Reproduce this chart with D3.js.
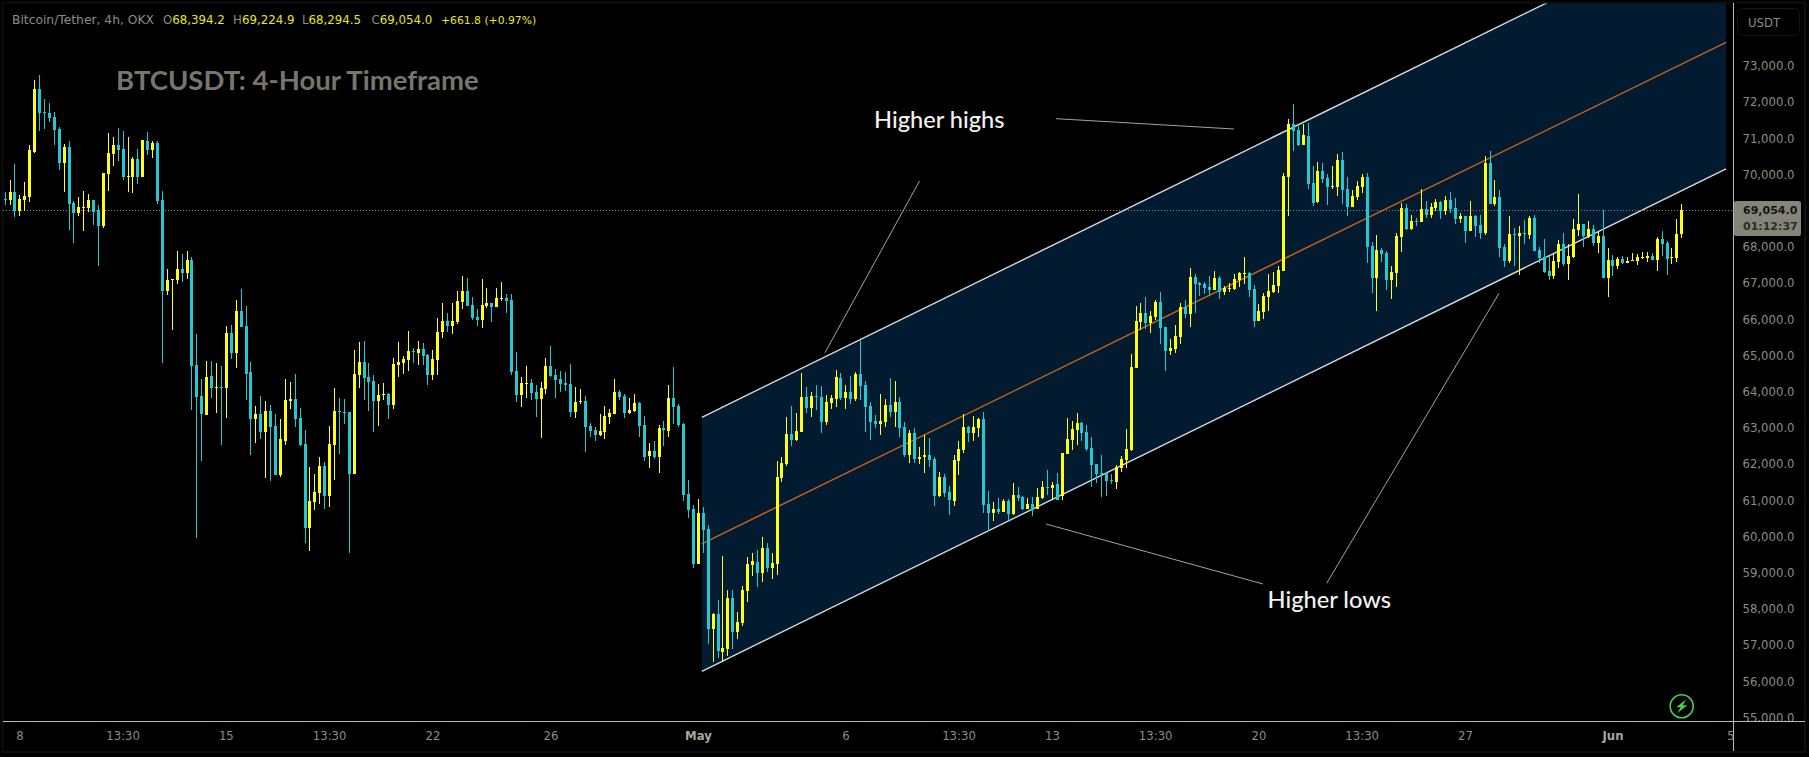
<!DOCTYPE html>
<html>
<head>
<meta charset="utf-8">
<script src="https://cdn.jsdelivr.net/npm/d3@7"></script>
<style>
  html, body { margin: 0; padding: 0; background: #000; overflow: hidden; }
  text { font-family: "DejaVu Sans", sans-serif; }
</style>
</head>
<body>
<svg id="chart" width="1809" height="757"></svg>
<script>
/** 4h candles as [open, high, low, close] */
var candlesApril = [
  [69370,69560,69200,69350],[69340,69890,69200,69560],[69560,70330,68870,69030],[69030,69470,68900,69370],[69340,69840,69030,69450],[69420,70860,69280,70720],
  [70670,72660,70640,72410],[72410,72790,71250,71740],[71770,72130,71300,71740],[71740,72020,71490,71600],[71630,71770,70860,71270],[71300,71360,70170,70360],
  [70360,70880,69560,70800],[70800,70970,68510,69230],[69260,69310,68150,68980],[68980,69420,68900,69150],[69120,69590,68480,69150],[69120,69500,69010,69340],
  [69340,69340,68650,69010],[69060,69200,67520,68620],[68620,70090,68570,70080],[70060,71190,69590,70640],[70610,71080,70280,70860],[70860,71330,70420,70720],
  [70750,71250,69890,69970],[69970,71080,69560,70000],[69970,70530,69530,70470],[70470,70750,69780,69970],[69970,71000,69970,71000],[70970,71220,70580,70720],
  [70720,70970,70500,70910],[70910,70970,69230,69310],[69340,69590,64840,66820],[66820,67430,66720,67130],[67130,67160,65750,67160],[67130,67930,67020,67430],
  [67430,67850,67070,67320],[67320,67930,67160,67680],[67680,67770,63540,64750],[64780,65640,60000,63900],[63920,64390,62130,63430],[63400,64890,63400,64450],
  [64480,64890,63870,64150],[64150,64840,63450,64170],[64170,64750,62570,64150],[64150,65860,63320,65670],[65670,65890,64950,65110],[65110,66580,64700,66270],
  [66270,66880,65830,65830],[65860,66410,63810,64530],[64590,64860,62290,63290],[63290,63650,62630,63430],[63430,63920,62740,62930],[62930,63790,61660,63510],
  [63510,63680,61580,63070],[63100,63430,61740,61740],[61740,63290,61690,62740],[62680,64390,62570,63810],[63790,64310,63570,63840],[63840,64530,63070,63290],
  [63320,63590,62540,62570],[62600,62990,59860,60280],[60280,61960,59640,61020],[61000,61770,60770,61270],[61240,62240,60940,61990],[61990,62100,60800,61160],
  [61160,63100,60860,62600],[62570,64150,61600,63510],[63510,63870,62320,63480],[63480,63840,63150,63450],[63480,63480,59590,61770],[61770,65200,61770,64530],
  [64500,65420,64150,64860],[64860,65440,63810,64420],[64450,64840,63510,64310],[64340,64500,62930,63790],[63790,64260,63100,63950],[63950,64280,63810,63980],
  [63980,64010,63290,63680],[63680,64970,63570,64810],[64780,65420,64450,64860],[64840,65030,64530,64950],[64920,65720,64620,65170],[65170,65250,64840,65140],
  [65110,65440,64780,65220],[65220,65390,64780,65030],[65060,65080,64230,64500],[64500,65200,64370,64950],[64920,66080,64500,65690],[65690,66490,65530,66000],
  [66000,66220,65690,65860],[65860,66490,65640,66000],[65970,66830,65910,66550],[66520,67240,66330,66830],[66830,67180,66410,66410],[66440,66660,66020,66080],
  [66110,66330,65860,66020],[66020,67160,65800,66440],[66410,66910,66360,66490],[66490,66490,65970,66380],[66380,66910,66380,66630],[66600,67070,66550,66630],
  [66630,66740,66220,66550],[66580,66740,64500,64590],[64620,65140,63760,63950],[63950,64450,63620,64280],[64260,64750,63870,64280],[64280,64390,63810,64010],
  [64040,64230,63340,63840],[63840,64310,62760,64150],[64120,64970,63980,64750],[64750,65310,64450,64480],[64500,64670,63870,64370],[64390,64620,64040,64260],
  [64280,64590,64060,64230],[64260,64810,63340,63480],[63480,64170,63320,63760],[63760,64120,63700,63790],[63790,63920,62380,63070],[63100,63180,62790,62960],
  [62990,63070,62680,62850],[62850,63430,62820,62960],[62930,63650,62740,63370],[63340,63570,63150,63450],[63430,64390,63430,64040],[64040,64090,63810,63900],
  [63920,63980,63320,63450],[63450,63870,63430,63540],[63510,63980,63480,63730],[63730,63760,62790,63100],[63120,63370,62130,62240],[62270,62630,61940,62400],
  [62400,62680,62180,62240],[62240,63120,61800,63040],[63040,63230,62540,62990],[62960,64230,62790,63870],[63870,64730,63150,63620],[63650,63700,63070,63120],
  [63150,63180,61020,61190],[61220,61600,60550,60770],[60800,60910,59170,59280]
];

var candlesMay = [
  [59280,61080,59280,60690],[60690,60860,59590,60220],[60250,60360,57070,57490],[57490,57930,56570,57900],[57900,58290,56680,56880],[56850,59500,56600,56960],
  [56930,58560,56740,58340],[58340,58560,56930,57400],[57400,57960,57210,57680],[57650,58670,57570,58560],[58530,59480,58230,59280],[59250,59590,58950,59360],
  [59340,59670,58650,59030],[59030,60030,58780,59720],[59720,59860,59060,59170],[59170,59590,58870,59310],[59280,62130,58980,61690],[61660,62240,61550,62070],
  [62040,63340,61990,62870],[62870,63650,62540,62710],[62710,63450,62680,62960],[62930,64560,62930,63900],[63900,64170,63450,63590],[63590,64030,63340,63920],
  [63920,64230,63540,63900],[63900,64200,62900,63210],[63210,63950,63120,63760],[63730,63950,63560,63870],[63840,64640,63620,64450],[64420,64560,63810,63870],
  [63870,64230,63560,64030],[64030,64480,63700,63840],[63840,64590,63790,64530],[64530,65530,63810,64200],[64230,64340,62930,63620],[63650,63760,62710,63210],
  [63230,63400,63040,63150],[63150,63980,62850,63230],[63210,63840,63070,63670],[63670,64420,63340,63480],[63480,64340,63070,63760],[63760,63900,62790,63040],
  [63070,63210,62240,62290],[62290,62980,62070,62900],[62900,63040,62070,62180],[62180,62510,62040,62240],[62240,62850,61800,62290],[62290,62760,61960,62160],
  [62180,62240,60880,61160],[61160,61820,61130,61690],[61690,61770,61130,61240],[61270,61440,60640,61050],[61020,62290,60880,62160],[62130,62680,61740,62460],
  [62430,63430,62350,63070],[63070,63090,62650,62900],[62900,63370,62680,63070],[63040,63320,62790,63290],[63290,63480,60690,60910],[60940,61300,60190,60690],
  [60690,60990,60470,60800],[60800,61110,60660,60720],[60720,61080,60720,61020],[61020,61080,60440,60660],[60660,61520,60640,61190],[61190,61410,61020,61110],
  [61130,61160,60770,60800],[60800,61110,60800,60940],[60940,61130,60610,60770],[60800,61380,60800,61130],[61110,61580,61080,61410],[61410,61880,61190,61380],
  [61380,61550,61050,61460],[61490,61800,61050,61050],[61160,62350,61050,62350],[62320,63320,62320,62740],[62710,63230,62430,63010],[62980,63450,62570,63180],
  [63180,63210,62680,62900],[62930,63120,62400,62460],[62490,62790,61410,62020],[62040,62040,61520,61770],[61800,62290,61130,61770],[61800,61820,61160,61580],
  [61600,61770,61490,61580],[61550,62020,61350,61960],[61930,62270,61820,62180],[62160,63010,61930,62460],[62430,65080,62400,64730],[64700,66410,64700,66000],
  [65970,66490,65750,66220],[66220,66660,65770,65940],[65940,66270,65660,66130],[66110,66580,66020,66520],[66520,66800,65360,65800],[65830,65830,64610,65170],
  [65170,65500,65060,65250],[65220,65890,65110,65580],[65550,66490,65360,66380],[66380,66580,66080,66190],[66190,67460,65830,67210],[67210,67290,66220,67020],
  [67050,67070,66690,66990],[67020,67070,66740,66910],[66940,67240,66690,66850],[66850,67380,66850,67180],[67180,67240,66600,66800],[66800,66960,66710,66910],
  [66880,67050,66800,66910],[66880,67290,66850,67160],[67130,67350,66940,67320],[67290,67760,67020,67320],[67320,67350,66660,66850],[66880,66990,65830,66000],
  [66000,66470,66000,66270],[66240,66770,66050,66690],[66660,67290,66270,66820],[66800,67350,66770,66990],[66960,67520,66770,67410],[67380,70090,67380,70000],
  [69970,71580,68900,71440],[71440,71990,70690,71250],[71270,71380,70830,70860],[70860,71440,70860,71130],[71110,71470,69640,69780],[69810,70280,69170,69260],
  [69280,70390,69260,70140],[70140,70360,69810,69920],[69950,70060,69200,69700],[69700,70280,69640,69730],[69700,70610,69450,70440],[70440,70670,69230,69620],
  [69640,69970,68900,69150],[69150,69620,69150,69450],[69420,69860,69340,69730],[69700,70060,69530,69970],[69970,70090,67600,68040],[68070,68180,66770,67180],
  [67180,68370,66270,67960],[67960,68010,67630,67850],[67870,67930,66850,67130],[67130,67520,66600,67350],[67320,68430,66940,68340],[68320,69260,67900,69120],
  [69120,69230,68510,68540],[68540,68920,68510,68760],[68770,68840,68620,68740],[68730,69640,68730,69090],[69090,69310,68840,68920],[68920,69260,68840,69150],
  [69120,69370,69040,69280],[69280,69310,68810,69040],[69040,69450,68920,69340],[69340,69560,68980,69090],[69120,69390,68680,68810],[68810,68980,68700,68900],
  [68900,68900,68150,68480],[68480,69310,68480,68900],[68900,68920,68320,68620],[68650,68920,68260,68430],[68430,70560,68370,70360],[70360,70690,69230,69230],
  [69230,69890,69170,69420],[69420,69620,67760,68010],[68040,68120,67490,67650],[67650,68900,67600,68400],[68400,68570,67520,68370],[68340,68620,67270,68430],
  [68430,68790,68120,68400],[68370,68900,68260,68840],[68840,68920,67930,67930],[67960,68040,67600,67740],[67760,68260,67320,67350],[67380,67790,67130,67240]
];

var candlesJune = [
  [67240,67850,67160,67650],[67630,68230,67460,68120],[68120,68430,67520,67570],[67570,68120,67130,67790],[67760,68810,67740,68540],[68510,69500,68340,68680],
  [68680,68680,68040,68340],[68320,68760,68290,68540],[68540,68650,68070,68150],[68150,68460,67880,68340],[68340,69060,67180,67180],[67180,68010,66660,67680],
  [67680,67820,67240,67520],[67520,67760,67430,67710],[67710,67790,67570,67600],[67600,67760,67600,67650],[67650,67880,67650,67680],[67650,67850,67540,67760],
  [67740,67900,67710,67760],[67740,67900,67630,67790],[67790,67880,67680,67680],[67680,68320,67380,68260],[68260,68480,67790,68120],[68150,68210,67270,67710],
  [67740,68010,67570,67760],[67740,68810,67630,68400],[68394.2,69224.9,68294.5,69054]
];

/** Price axis labels */
var priceTicks = [73000,72000,71000,70000,68000,67000,66000,65000,64000,63000,62000,61000,60000,59000,58000,57000,56000,55000];

/** Time axis labels, keyed by candle number */
var timeTicks = [3,24,45,66,87,111,141,171,194,213,234,255,276,297,327,351];
var timeLabels = ["8","13:30","15","13:30","22","26","May","6","13:30","13","13:30","20","13:30","27","Jun","5"];
var boldTimeLabels = ["May","Jun"];

/** Channel ends: candle number and price of each line */
var channelIdx = [141.8, 350.1];
var channelUpper = [63335, 77214];
var channelMiddle = [59840, 73696];
var channelLower = [56317, 70196];

/** Last quote */
var legendQuote = [["O","68,394.2"],["H","69,224.9"],["L","68,294.5"],["C","69,054.0"]];
var lastPrice = 69054;

var candles = candlesApril.concat(candlesMay, candlesJune);

var svg = d3.select("#chart");

/**Setup the scales*/
var xScale = d3.scaleLinear().domain([0, 341]).range([4.6, 1681.3]);
var yScale = d3.scaleLinear().domain([55000, 73000]).range([719, 67.5]);

var upColor = "#ffff14",
    downColor = "#24c8d0",
    axisColor = "#b9b8aa",
    labelColor = "#8d8c81",
    noteColor = "#a5a398";

var defs = svg.append("defs");
defs.append("clipPath").attr("id", "plotClip").append("rect")
  .attr("x", 3).attr("y", 3.5).attr("width", 1730).attr("height", 718);
defs.append("clipPath").attr("id", "scaleClip").append("rect")
  .attr("x", 1734).attr("y", 3).attr("width", 71).attr("height", 718);

// outer frame
svg.append("rect")
  .attr("x", 2.5).attr("y", 2.5).attr("width", 1802.5).attr("height", 749.5)
  .attr("fill", "#000").attr("stroke", "#0f0f0b").attr("stroke-width", 2);

var plot = svg.append("g").attr("clip-path", "url(#plotClip)");

// channel fill and its lines
var channelArea = d3.area()
  .x(function(d, i){ return xScale(channelIdx[i]); })
  .y0(function(d, i){ return yScale(channelLower[i]); })
  .y1(function(d){ return yScale(d); });

plot.append("path")
  .attr("d", channelArea(channelUpper))
  .attr("fill", "#021b31");

var channelLine = d3.line()
  .x(function(d, i){ return xScale(channelIdx[i]); })
  .y(function(d){ return yScale(d); });

plot.selectAll(".channelLine")
  .data([channelUpper, channelLower]).enter().append("path")
  .attr("class", "channelLine")
  .attr("d", channelLine)
  .attr("fill", "none")
  .attr("stroke", "#d5dbdf")
  .attr("stroke-width", 1.4);

plot.append("path")
  .attr("d", channelLine(channelMiddle))
  .attr("fill", "none")
  .attr("stroke", "#c0621c")
  .attr("stroke-width", 1.5);

// dotted last price line
plot.append("line")
  .attr("x1", 3).attr("x2", 1733)
  .attr("y1", Math.round(yScale(lastPrice)) + 0.5).attr("y2", Math.round(yScale(lastPrice)) + 0.5)
  .attr("stroke", "#8d8c81")
  .attr("stroke-dasharray", "1 2");

// candles
var candleGroup = plot.append("g").attr("shape-rendering", "crispEdges");

function candleColor(d) {
  return d[3] >= d[0] ? upColor : downColor;
}

candleGroup.selectAll(".wick")
  .data(candles).enter().append("rect")
  .attr("class", "wick")
  .attr("x", function(d, i){ return Math.round(xScale(i)) - 0.5; })
  .attr("width", 1)
  .attr("y", function(d){ return Math.round(yScale(d[1])); })
  .attr("height", function(d){ return Math.max(1, Math.round(yScale(d[2])) - Math.round(yScale(d[1]))); })
  .attr("fill", candleColor);

candleGroup.selectAll(".body")
  .data(candles).enter().append("rect")
  .attr("class", "body")
  .attr("x", function(d, i){ return Math.round(xScale(i)) - 1.5; })
  .attr("width", 3)
  .attr("y", function(d){ return Math.round(yScale(Math.max(d[0], d[3]))); })
  .attr("height", function(d){ return Math.max(1, Math.round(yScale(Math.min(d[0], d[3]))) - Math.round(yScale(Math.max(d[0], d[3])))); })
  .attr("fill", candleColor);

// notes drawn on the chart
var noteLines = [
  [1056, 118.7, 1234, 129],
  [825, 352.7, 919.5, 181],
  [1046, 524, 1263, 584],
  [1499, 293.3, 1326.7, 583.3]
];
svg.selectAll(".noteLine")
  .data(noteLines).enter().append("line")
  .attr("class", "noteLine")
  .attr("x1", function(d){ return d[0]; })
  .attr("y1", function(d){ return d[1]; })
  .attr("x2", function(d){ return d[2]; })
  .attr("y2", function(d){ return d[3]; })
  .attr("stroke", noteColor)
  .attr("stroke-width", 1);

svg.append("text")
  .attr("x", 874).attr("y", 128)
  .attr("fill", "#f2f2f0")
  .style("font-family", "Lato, sans-serif").style("font-size", "23.6px").style("font-weight", 500)
  .text("Higher highs");

svg.append("text")
  .attr("x", 1267.5).attr("y", 608)
  .attr("fill", "#f2f2f0")
  .style("font-family", "Lato, sans-serif").style("font-size", "23.6px").style("font-weight", 500)
  .text("Higher lows");

svg.append("text")
  .attr("x", 116).attr("y", 89.5)
  .attr("fill", "#77756c")
  .style("font-family", "Lato, sans-serif").style("font-size", "27.5px").style("font-weight", 700)
  .text("BTCUSDT: 4-Hour Timeframe");

// header with the last quote
svg.append("text")
  .attr("x", 12).attr("y", 24)
  .attr("fill", labelColor)
  .style("font-size", "12.3px")
  .text("Bitcoin/Tether, 4h, OKX");

var quoteX = [163, 233, 302, 371.5];
var quoteText = svg.selectAll(".quote")
  .data(legendQuote).enter().append("text")
  .attr("class", "quote")
  .attr("x", function(d, i){ return quoteX[i]; })
  .attr("y", 24)
  .style("font-size", "11.8px");
quoteText.append("tspan").attr("fill", labelColor).text(function(d){ return d[0]; });
quoteText.append("tspan").attr("fill", "#e8e81c").text(function(d){ return d[1]; });

svg.append("text")
  .attr("x", 441).attr("y", 24)
  .attr("fill", "#e8e81c")
  .style("font-size", "10.8px")
  .text("+661.8 (+0.97%)");

// price axis
var priceAxis = d3.axisRight(yScale)
  .tickValues(priceTicks)
  .tickSize(0)
  .tickPadding(9)
  .tickFormat(d3.format(",.1f"));

var priceG = svg.append("g")
  .attr("clip-path", "url(#scaleClip)")
  .append("g")
  .attr("transform", "translate(1733.5,-1.5)")
  .call(priceAxis);
priceG.select(".domain").remove();
priceG.selectAll("text")
  .attr("fill", labelColor)
  .style("font-size", "11.7px")
  .style("font-family", '"DejaVu Sans", sans-serif');

// time axis
var timeAxis = d3.axisBottom(xScale)
  .tickValues(timeTicks)
  .tickSize(0)
  .tickPadding(10)
  .tickFormat(function(d, i){ return timeLabels[i]; });

var timeG = svg.append("g")
  .attr("transform", "translate(0,722)")
  .call(timeAxis);
timeG.select(".domain").remove();
timeG.selectAll("text")
  .attr("fill", function(d, i){ return boldTimeLabels.indexOf(timeLabels[i]) >= 0 ? "#a9a89c" : labelColor; })
  .style("font-size", "11.7px")
  .style("font-weight", function(d, i){ return boldTimeLabels.indexOf(timeLabels[i]) >= 0 ? 700 : 400; })
  .style("font-family", '"DejaVu Sans", sans-serif');

// axis borders
svg.append("line")
  .attr("x1", 3).attr("x2", 1805).attr("y1", 721.5).attr("y2", 721.5)
  .attr("stroke", axisColor);
svg.append("line")
  .attr("x1", 1733.5).attr("x2", 1733.5).attr("y1", 3).attr("y2", 751)
  .attr("stroke", axisColor);

// last price label
svg.append("rect")
  .attr("x", 1734).attr("y", 201).attr("width", 67).attr("height", 35)
  .attr("rx", 2)
  .attr("fill", "#85847a");
svg.append("text")
  .attr("x", 1743).attr("y", 213.5)
  .attr("fill", "#141414")
  .style("font-size", "11px").style("font-weight", 700)
  .text(d3.format(",.1f")(lastPrice));
svg.append("text")
  .attr("x", 1743).attr("y", 229.5)
  .attr("fill", "#2c2c28")
  .style("font-size", "11px").style("font-weight", 700)
  .text("01:12:37");

// currency button
svg.append("rect")
  .attr("x", 1737.5).attr("y", 8.5).attr("width", 62).attr("height", 27)
  .attr("rx", 5)
  .attr("fill", "none")
  .attr("stroke", "#15150f");
svg.append("text")
  .attr("x", 1748).attr("y", 26.5)
  .attr("fill", labelColor)
  .style("font-size", "11.7px")
  .text("USDT");

// green bolt icon
var bolt = svg.append("g").attr("transform", "translate(1681.7,706.3)");
bolt.append("circle")
  .attr("r", 11.5)
  .attr("fill", "none")
  .attr("stroke", "#46d34a")
  .attr("stroke-width", 1.6);
bolt.append("path")
  .attr("d", "M4.5,-7 L-5.5,1 L-1,1 L-4.5,7 L5.5,-1 L1,-1 Z")
  .attr("fill", "#46d34a");
</script>
</body>
</html>
